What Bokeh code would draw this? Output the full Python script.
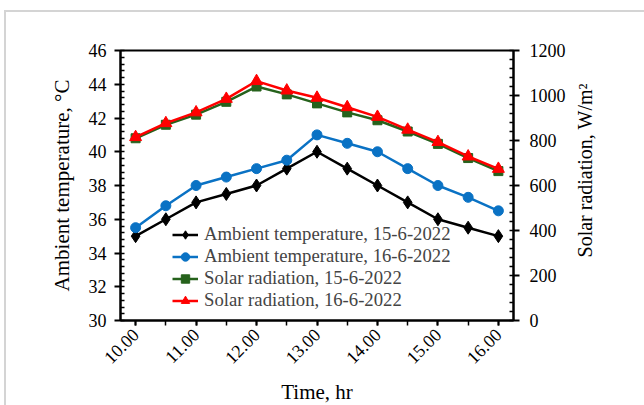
import math
from bokeh.plotting import figure
from bokeh.layouts import row
from bokeh.models import (Range1d, LinearAxis, FixedTicker, SingleIntervalTicker,
                          Legend, LegendItem)
from bokeh.core.properties import value
from bokeh.embed import file_html
from bokeh.resources import INLINE

# ---- data ----
hours = [10.0, 10.5, 11.0, 11.5, 12.0, 12.5, 13.0, 13.5, 14.0, 14.5, 15.0, 15.5, 16.0]
hour_ticks = [10, 11, 12, 13, 14, 15, 16]
hour_labels = ["10.00", "11.00", "12.00", "13.00", "14.00", "15.00", "16.00"]

temp_15 = [35.0, 36.0, 37.0, 37.5, 38.0, 39.0, 40.0, 39.0, 38.0, 37.0, 36.0, 35.5, 35.0]
temp_16 = [35.5, 36.8, 38.0, 38.5, 39.0, 39.5, 41.0, 40.5, 40.0, 39.0, 38.0, 37.3, 36.5]
solar_15 = [810, 870, 915, 972, 1040, 1005, 965, 925, 890, 840, 785, 722, 664]
solar_16 = [815, 877, 925, 985, 1064, 1022, 990, 948, 905, 848, 793, 729, 674]

series_names = ["Ambient temperature, 15-6-2022", "Ambient temperature, 16-6-2022",
                "Solar radiation, 15-6-2022", "Solar radiation, 16-6-2022"]
right_title = "Solar radiation,  W/m²"

FONT = "Liberation Serif"

p = figure(frame_width=393, frame_height=270,
           min_border_left=114, min_border_right=55,
           min_border_top=38, min_border_bottom=85,
           x_range=Range1d(9.75, 16.25), y_range=Range1d(30, 46),
           output_backend="svg", toolbar_location=None)
p.extra_y_ranges = {"solar": Range1d(0, 1200)}

p.grid.visible = False
p.outline_line_color = "black"
p.outline_line_width = 2
p.background_fill_color = "white"
p.border_fill_color = "white"

# x axis
xa = p.xaxis[0]
xa.ticker = FixedTicker(ticks=hour_ticks, minor_ticks=hours)
xa.major_label_overrides = dict(zip(hour_ticks, hour_labels))
xa.major_label_orientation = math.pi / 4
xa.axis_label = "Time, hr"

# left axis
ya = p.yaxis[0]
ya.ticker = SingleIntervalTicker(interval=2, num_minor_ticks=5)
ya.axis_label = "Ambient temperature, °C"

# right axis
ra = LinearAxis(y_range_name="solar",
                ticker=SingleIntervalTicker(interval=200, num_minor_ticks=5))
p.add_layout(ra, "right")

for ax in (xa, ya, ra):
    ax.axis_line_width = 2
    ax.axis_line_color = "black"
    ax.major_tick_line_width = 2
    ax.minor_tick_line_width = 1.5
    ax.major_tick_line_color = "black"
    ax.minor_tick_line_color = "black"
    ax.major_label_text_font = FONT
    ax.major_label_text_font_size = "18px"
    ax.major_label_text_color = "black"
    ax.axis_label_text_font = FONT
    ax.axis_label_text_font_size = "21px"
    ax.axis_label_text_font_style = "normal"
    ax.axis_label_text_color = "black"

xa.major_tick_out = 5
xa.major_tick_in = 0
xa.minor_tick_out = 5
xa.minor_tick_in = 0
xa.major_label_standoff = 6
xa.axis_label_standoff = 8

for ax in (ya, ra):
    ax.major_tick_out = 6
    ax.major_tick_in = 0
    ax.minor_tick_out = 0
    ax.minor_tick_in = 4
ya.major_label_standoff = 8
ya.axis_label_standoff = 12
ra.major_label_standoff = 10

# series
c_black, c_blue, c_green, c_red = "black", "#0a72c4", "#26621c", "#ff0000"

l1 = p.line(hours, temp_15, line_color=c_black, line_width=2.5)
m1 = p.scatter(hours, temp_15, marker="diamond", size=13, color=c_black)
l2 = p.line(hours, temp_16, line_color=c_blue, line_width=2.5)
m2 = p.scatter(hours, temp_16, marker="circle", size=10, color=c_blue)
l3 = p.line(hours, solar_15, line_color=c_green, line_width=2.5, y_range_name="solar")
m3 = p.scatter(hours, solar_15, marker="square", size=9, color=c_green, y_range_name="solar")
l4 = p.line(hours, solar_16, line_color=c_red, line_width=2.5, y_range_name="solar")
m4 = p.scatter(hours, solar_16, marker="triangle", size=12, color=c_red, y_range_name="solar")

legend = Legend(items=[
    LegendItem(label=series_names[0], renderers=[l1, m1]),
    LegendItem(label=series_names[1], renderers=[l2, m2]),
    LegendItem(label=series_names[2], renderers=[l3, m3]),
    LegendItem(label=series_names[3], renderers=[l4, m4]),
], location=(52, 9))
legend.label_text_font = FONT
legend.label_text_font_size = "18.7px"
legend.glyph_width = 26
legend.glyph_height = 21
legend.label_height = 21
legend.label_standoff = 6
legend.padding = 0
legend.margin = 0
legend.spacing = 0
legend.background_fill_alpha = 0
legend.border_line_alpha = 0
p.add_layout(legend)

# narrow side panel holding the right-axis title, reading bottom-to-top
side_w, side_h = 76, 393
t = figure(width=side_w, height=side_h, x_range=Range1d(0, side_w), y_range=Range1d(0, side_h),
           min_border=0, min_border_left=0, min_border_right=0, min_border_top=0,
           min_border_bottom=0, output_backend="svg", toolbar_location=None)
t.axis.visible = False
t.grid.visible = False
t.outline_line_color = None
t.background_fill_color = "white"
t.border_fill_color = "white"
t.text(x=[16], y=[221], text=[right_title], angle=math.pi / 2,
       text_align="center", text_baseline="middle",
       text_font=value(FONT), text_font_size="20px", text_color="black")

layout = row(p, t, spacing=0)
layout.styles = {"margin-left": "4px", "margin-top": "10px",
                 "border-left": "2px solid #d4d4d4", "border-top": "2px solid #d4d4d4"}

open("out.html", "w").write(file_html(layout, INLINE))
